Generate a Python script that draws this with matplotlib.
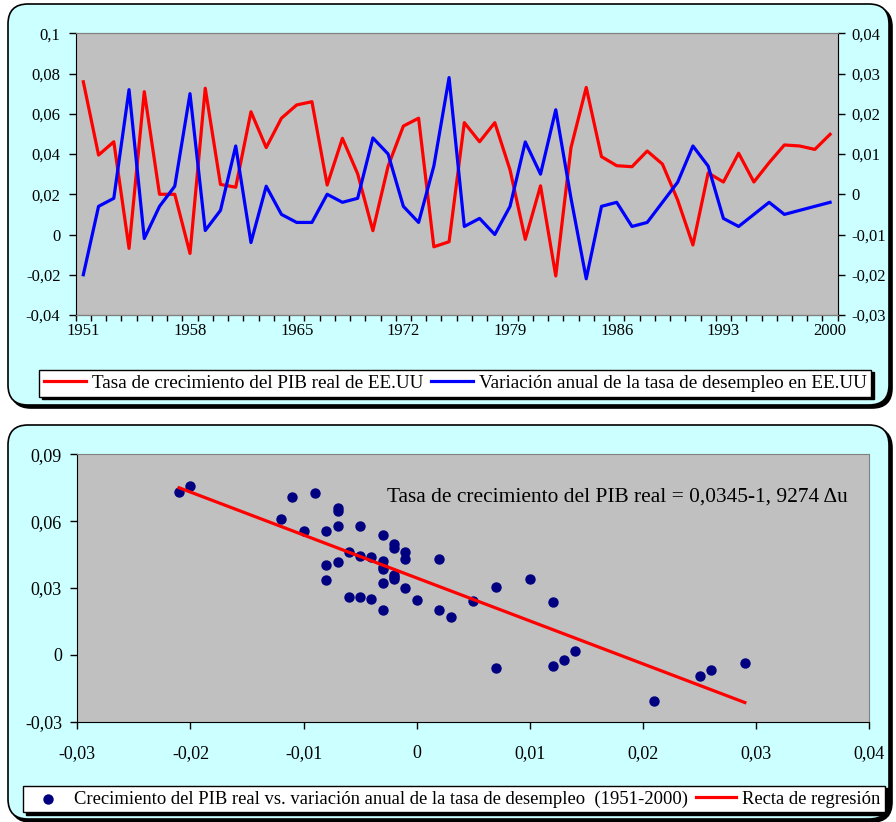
import numpy as np
import matplotlib
matplotlib.use("Agg")
import matplotlib.pyplot as plt
from matplotlib.patches import FancyBboxPatch
from matplotlib.transforms import IdentityTransform
from matplotlib.ticker import FuncFormatter

plt.rcParams['font.family'] = ['Liberation Serif', 'DejaVu Serif']

W, H = 896, 822

years = list(range(1951, 2001))

# tasa de crecimiento del PIB real (eje izquierdo)
pib = [0.0759, 0.0395, 0.0461, -0.0069, 0.0710, 0.0200, 0.0200, -0.0094, 0.0727, 0.0249,
       0.0235, 0.0610, 0.0432, 0.0578, 0.0644, 0.0660, 0.0246, 0.0478, 0.0302, 0.0019,
       0.0340, 0.0539, 0.0578, -0.0061, -0.0036, 0.0556, 0.0461, 0.0556, 0.0321, -0.0024,
       0.0242, -0.0206, 0.0432, 0.0731, 0.0387, 0.0342, 0.0337, 0.0415, 0.0350, 0.0171,
       -0.0052, 0.0306, 0.0261, 0.0404, 0.0261, 0.0357, 0.0445, 0.0440, 0.0423, 0.0498]

# variacion anual de la tasa de desempleo (eje derecho)
desempleo = [-0.020, -0.003, -0.001, 0.026, -0.011, -0.003, 0.002, 0.025, -0.009, -0.004,
             0.012, -0.012, 0.002, -0.005, -0.007, -0.007, 0.000, -0.002, -0.001, 0.014,
             0.010, -0.003, -0.007, 0.007, 0.029, -0.008, -0.006, -0.010, -0.003, 0.013,
             0.005, 0.021, -0.001, -0.021, -0.003, -0.002, -0.008, -0.007, -0.002, 0.003,
             0.012, 0.007, -0.006, -0.008, -0.005, -0.002, -0.005, -0.004, -0.003, -0.002]

year_labels = [1951, 1958, 1965, 1972, 1979, 1986, 1993, 2000]
intercepto, pendiente = 0.0345, -1.9274

GRIS = '#C0C0C0'
CIAN = '#CCFFFF'


def comma(v, pos=None):
    s = f"{v:.2f}".rstrip('0').rstrip('.')
    if s in ('-0', '-0.'):
        s = '0'
    return s.replace('.', ',')


def rect(l, t, r, b):
    return [l / W, 1 - b / H, (r - l) / W, (b - t) / H]


def panel(fig, l, t, r, b):
    for dx, col in ((3, 'black'), (0, CIAN)):
        p = FancyBboxPatch((l + dx, H - b - dx), r - l, b - t,
                           boxstyle="round,pad=0,rounding_size=20",
                           transform=IdentityTransform(), facecolor=col,
                           edgecolor='black', linewidth=1.2, zorder=-10)
        fig.patches.append(p)


fig = plt.figure(figsize=(W / 100, H / 100), dpi=100, facecolor='white')
panel(fig, 8, 4, 889, 405)
panel(fig, 8, 425, 889, 819)

# ---- grafico superior: series temporales
ax = fig.add_axes(rect(75.7, 33.3, 837.7, 315))
ax2 = ax.twinx()
ax.set_facecolor(GRIS)
ax2.patch.set_visible(False)
ax.plot(years, pib, color='#FF0000', lw=2.3, label='Tasa de crecimiento del PIB real de EE.UU')
ax2.plot(years, desempleo, color='#0000FF', lw=2.3,
         label='Variación anual de la tasa de desempleo en EE.UU')
ax.set_xlim(1950.5, 2000.5)
ax.set_ylim(-0.04, 0.1)
ax2.set_ylim(-0.03, 0.04)
ax.set_yticks(np.arange(-0.04, 0.1001, 0.02))
ax2.set_yticks(np.arange(-0.03, 0.0401, 0.01))
ax.yaxis.set_major_formatter(FuncFormatter(comma))
ax2.yaxis.set_major_formatter(FuncFormatter(comma))
ax.set_xticks(year_labels)
ax.set_xticks(np.arange(1950.5, 2001, 1), minor=True)
ax.tick_params(axis='x', which='major', length=0, pad=6, labelsize=12)
ax.tick_params(axis='x', which='minor', length=4, direction='out', width=1)
ax.tick_params(axis='y', length=5, width=1, pad=6, labelsize=12)
ax2.tick_params(axis='y', length=5, width=1, pad=4.5, labelsize=12)
for a in (ax, ax2):
    for s in a.spines.values():
        s.set_color('#808080')
ax.spines['left'].set_color('black')
ax.spines['bottom'].set_color('black')
ax2.spines['right'].set_color('black')
ax2.spines['left'].set_visible(False)

h1, l1 = ax.get_legend_handles_labels()
h2, l2 = ax2.get_legend_handles_labels()
fig.legend(h1 + h2, l1 + l2, loc='center', bbox_to_anchor=(455 / W, 1 - 383 / H),
           ncol=2, fontsize=13.8, frameon=True, fancybox=False, edgecolor='black',
           framealpha=1, shadow={'color': 'black', 'alpha': 1}, handlelength=2.2,
           handletextpad=0.3, columnspacing=0.4, borderpad=0.25)

# ---- grafico inferior: dispersion y recta de regresion
bx = fig.add_axes(rect(77.3, 454.3, 869.3, 721.7))
bx.set_facecolor(GRIS)
bx.scatter(desempleo, pib, s=42, color='#000080', zorder=3,
           label='Crecimiento del PIB real vs. variación anual de la tasa de desempleo  (1951-2000)')
xr = np.array([min(desempleo), max(desempleo)])
bx.plot(xr, intercepto + pendiente * xr, color='#FF0000', lw=2.3, zorder=4,
        label='Recta de regresión')
bx.set_xlim(-0.03, 0.04)
bx.set_ylim(-0.03, 0.09)
bx.set_xticks(np.arange(-0.03, 0.0401, 0.01))
bx.set_yticks(np.arange(-0.03, 0.0901, 0.03))
bx.xaxis.set_major_formatter(FuncFormatter(comma))
bx.yaxis.set_major_formatter(FuncFormatter(comma))
bx.tick_params(axis='x', length=5, width=1, pad=11.5, labelsize=13)
bx.tick_params(axis='y', length=5, width=1, pad=6, labelsize=13)
for s in bx.spines.values():
    s.set_color('#808080')
bx.spines['left'].set_color('black')
bx.spines['bottom'].set_color('black')
bx.text(0.391, 0.84, 'Tasa de crecimiento del PIB real = 0,0345-1, 9274 \u0394u',
        transform=bx.transAxes, fontsize=15.4, va='center', ha='left')

fig.legend(*bx.get_legend_handles_labels(), loc='center', bbox_to_anchor=(454 / W, 1 - 799 / H),
           ncol=2, fontsize=13.4, frameon=True, fancybox=False, edgecolor='black',
           framealpha=1, shadow={'color': 'black', 'alpha': 1}, handlelength=2.2,
           handletextpad=0.3, columnspacing=0.4, borderpad=0.25, scatterpoints=1)

fig.savefig('out.png', dpi=100)
